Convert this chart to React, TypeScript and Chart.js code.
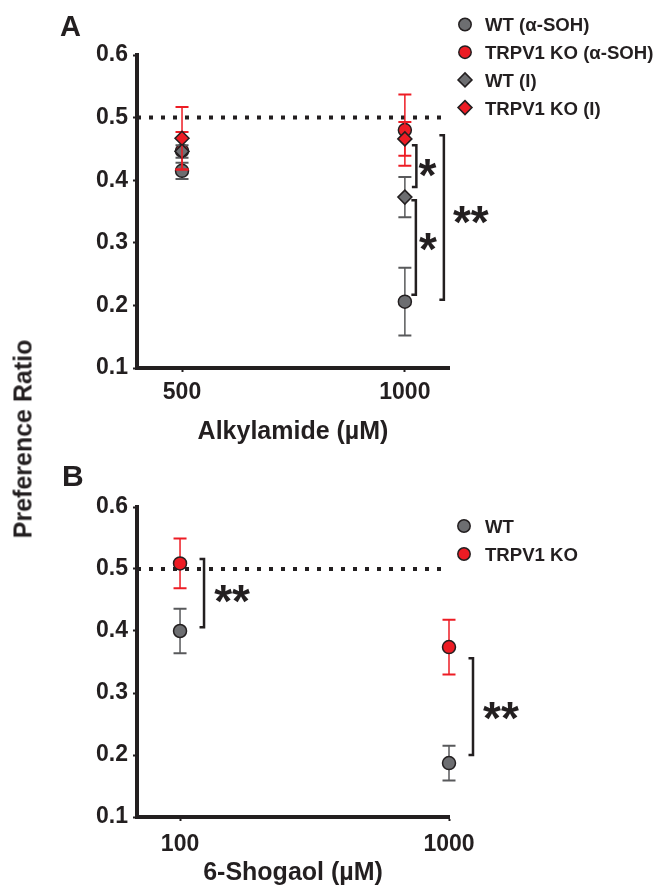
import React, { useEffect, useRef } from 'react';
import { Chart, registerables } from 'chart.js';

Chart.register(...registerables);

const FONT = '"Liberation Sans", Arial, Helvetica, sans-serif';
const INK = '#231f20';
const GREY = '#6d6e71';
const GREY_ERR = '#58595b';
const RED = '#ed1c24';

// ---------- Panel A data ----------
const A_DOSES = [500, 1000];
const A_X_TICKS = [500, 1000];
const A_WT_SOH = [0.415, 0.206];
const A_WT_SOH_ERR = [0.013, 0.054];
const A_KO_SOH = [0.447, 0.48];
const A_KO_SOH_ERR = [0.03, 0.057];
const A_WT_I = [0.446, 0.373];
const A_WT_I_ERR = [0.01, 0.032];
const A_KO_I = [0.467, 0.466];
const A_KO_I_ERR = [0.05, 0.027];

// ---------- Panel B data ----------
const B_DOSES = [100, 1000];
const B_X_TICKS = [100, 1000];
const B_WT = [0.4, 0.187];
const B_WT_ERR = [0.036, 0.028];
const B_KO = [0.509, 0.374];
const B_KO_ERR = [0.04, 0.044];

const Y_TICKS = [0.1, 0.2, 0.3, 0.4, 0.5, 0.6];
const CHANCE_LEVEL = 0.5;

// significance brackets (value ranges) and their labels
const A_BRACKETS = [
  { x: 1000, from: 0.456, to: 0.389, label: '*' },
  { x: 1000, from: 0.368, to: 0.217, label: '*' },
  { x: 1000, from: 0.472, to: 0.209, label: '**' },
];
const B_BRACKETS = [
  { x: 100, from: 0.516, to: 0.406, label: '**' },
  { x: 1000, from: 0.356, to: 0.2, label: '**' },
];

// pixel offsets for the bracket drawing (style only)
const A_BRACKET_OFFSETS = [
  { dx: 11.5, tdx: 11, tdy: 3.5 },
  { dx: 11, tdx: 12, tdy: -4 },
  { dx: 39, tdx: 27, tdy: -1.5 },
];
const B_BRACKET_OFFSETS = [
  { dx: 24, tdx: 28, tdy: 2 },
  { dx: 24, tdx: 28, tdy: 5.5 },
];

function pts(xs: number[], ys: number[]) {
  return xs.map((x, i) => ({ x, y: ys[i] }));
}

function drawMarker(ctx: CanvasRenderingContext2D, style: string, x: number, y: number, r: number, fill: string) {
  ctx.save();
  ctx.fillStyle = fill;
  ctx.strokeStyle = INK;
  ctx.lineWidth = 1.5;
  ctx.beginPath();
  if (style === 'rectRot') {
    ctx.moveTo(x, y - r);
    ctx.lineTo(x + r, y);
    ctx.lineTo(x, y + r);
    ctx.lineTo(x - r, y);
    ctx.closePath();
  } else {
    ctx.arc(x, y, r, 0, Math.PI * 2);
  }
  ctx.fill();
  ctx.stroke();
  ctx.restore();
}

const decorPlugin = {
  id: 'decor',
  beforeDatasetsDraw(chart: any, _args: any, opts: any) {
    const { ctx, chartArea } = chart;
    const y = chart.scales.y.getPixelForValue(opts.chance);
    ctx.save();
    ctx.strokeStyle = INK;
    ctx.lineWidth = 4;
    ctx.setLineDash([4, 8]);
    ctx.beginPath();
    ctx.moveTo(chartArea.left, y);
    ctx.lineTo(chartArea.right - 2, y);
    ctx.stroke();
    ctx.restore();
  },
  beforeDatasetDraw(chart: any, args: any) {
    const ds = chart.data.datasets[args.index];
    const errs = ds.errorBars;
    if (!errs) return;
    const meta = args.meta;
    const ys = chart.scales.y;
    const ctx = chart.ctx;
    ctx.save();
    ctx.strokeStyle = ds.errorColor;
    meta.data.forEach((pt: any, i: number) => {
      const v = ds.data[i].y;
      const e = errs[i];
      const yt = ys.getPixelForValue(v + e);
      const yb = ys.getPixelForValue(v - e);
      ctx.lineWidth = 1.5;
      ctx.beginPath();
      ctx.moveTo(pt.x, yt);
      ctx.lineTo(pt.x, yb);
      ctx.stroke();
      ctx.lineWidth = 2;
      ctx.beginPath();
      ctx.moveTo(pt.x - 6.5, yt);
      ctx.lineTo(pt.x + 6.5, yt);
      ctx.moveTo(pt.x - 6.5, yb);
      ctx.lineTo(pt.x + 6.5, yb);
      ctx.stroke();
    });
    ctx.restore();
  },
  afterDatasetsDraw(chart: any, _args: any, opts: any) {
    const { ctx } = chart;
    const xs = chart.scales.x;
    const ys = chart.scales.y;
    ctx.save();
    // brackets
    (opts.brackets || []).forEach((b: any, i: number) => {
      const off = opts.bracketOffsets[i];
      const xb = xs.getPixelForValue(b.x) + off.dx;
      const y1 = ys.getPixelForValue(b.from);
      const y2 = ys.getPixelForValue(b.to);
      ctx.strokeStyle = INK;
      ctx.lineWidth = 2.5;
      ctx.lineJoin = 'miter';
      ctx.beginPath();
      ctx.moveTo(xb - 4.5, y1);
      ctx.lineTo(xb, y1);
      ctx.lineTo(xb, y2);
      ctx.lineTo(xb - 4.5, y2);
      ctx.stroke();
      ctx.fillStyle = INK;
      ctx.font = `bold 46px ${FONT}`;
      ctx.textAlign = 'center';
      ctx.textBaseline = 'alphabetic';
      ctx.fillText(b.label, xb + off.tdx, (y1 + y2) / 2 + 0.47 * 46 + off.tdy);
    });
    // legend
    const lg = opts.legend;
    chart.data.datasets.forEach((ds: any, i: number) => {
      if (!ds.label) return;
      const yy = lg.y0 + i * lg.dy;
      drawMarker(ctx, ds.pointStyle, lg.x, yy, ds.pointStyle === 'rectRot' ? 7 : 6.2, ds.backgroundColor);
      ctx.fillStyle = INK;
      ctx.font = `bold 18.6px ${FONT}`;
      ctx.textAlign = 'left';
      ctx.textBaseline = 'middle';
      ctx.fillText(ds.label, lg.textX, yy + 1.8);
    });
    // panel letter
    ctx.fillStyle = INK;
    ctx.font = `bold ${opts.letter.size}px ${FONT}`;
    ctx.textAlign = 'left';
    ctx.textBaseline = 'alphabetic';
    ctx.fillText(opts.letter.text, opts.letter.x, opts.letter.y);
    ctx.restore();
  },
};

function makeDataset(label: string, xs: number[], ys: number[], errs: number[], style: string, fill: string, errColor: string, order: number) {
  return {
    label,
    data: pts(xs, ys),
    errorBars: errs,
    errorColor: errColor,
    pointStyle: style,
    backgroundColor: fill,
    borderColor: INK,
    pointBackgroundColor: fill,
    pointBorderColor: INK,
    pointBorderWidth: 1.5,
    pointRadius: style === 'rectRot' ? 7 : 6.5,
    pointHoverRadius: style === 'rectRot' ? 7 : 6.5,
    showLine: false,
    clip: false,
    order,
  };
}

function makeOptions(p: any) {
  const axisBase = {
    border: { display: true, width: 4, color: INK },
    grid: { display: true, drawOnChartArea: false, drawTicks: true, tickLength: 4, tickWidth: 2, tickColor: INK },
  };
  return {
    responsive: false,
    animation: false,
    events: [],
    layout: { padding: { left: 0, top: p.padTop, right: p.padRight, bottom: 0 } },
    plugins: {
      legend: { display: false },
      tooltip: { enabled: false },
      decor: p.decor,
    },
    scales: {
      x: {
        type: 'linear',
        min: p.xMin,
        max: p.xMax,
        ...axisBase,
        afterBuildTicks: (s: any) => {
          s.ticks = p.xTicks.map((v: number) => ({ value: v }));
        },
        afterFit: (s: any) => {
          s.height = p.xHeight;
        },
        ticks: {
          color: INK,
          font: { size: 23, weight: 'bold', family: FONT },
          padding: p.xTickPad,
          maxRotation: 0,
          callback: (v: any) => String(v),
        },
        title: {
          display: true,
          text: p.xTitle,
          color: INK,
          font: { size: 25, weight: 'bold', family: FONT, lineHeight: 1 },
          padding: { top: 0, bottom: p.titlePad },
        },
      },
      y: {
        type: 'linear',
        min: 0.1,
        max: 0.6,
        ...axisBase,
        afterBuildTicks: (s: any) => {
          s.ticks = Y_TICKS.map((v) => ({ value: v }));
        },
        afterFit: (s: any) => {
          s.width = 137;
        },
        ticks: {
          color: INK,
          font: { size: 23, weight: 'bold', family: FONT },
          padding: 5,
          callback: (v: any) => Number(v).toFixed(1),
        },
      },
    },
  };
}

function ChartCanvas({ config, width, height }: { config: () => any; width: number; height: number }) {
  const ref = useRef<HTMLCanvasElement | null>(null);
  useEffect(() => {
    if (!ref.current) return;
    const chart = new Chart(ref.current, config());
    return () => chart.destroy();
  }, []);
  return <canvas ref={ref} width={width} height={height} style={{ display: 'block', width, height }} />;
}

function configA() {
  return {
    type: 'scatter',
    data: {
      datasets: [
        makeDataset('WT (α-SOH)', A_DOSES, A_WT_SOH, A_WT_SOH_ERR, 'circle', GREY, GREY_ERR, 4),
        makeDataset('TRPV1 KO (α-SOH)', A_DOSES, A_KO_SOH, A_KO_SOH_ERR, 'circle', RED, RED, 3),
        makeDataset('WT (I)', A_DOSES, A_WT_I, A_WT_I_ERR, 'rectRot', GREY, GREY_ERR, 2),
        makeDataset('TRPV1 KO (I)', A_DOSES, A_KO_I, A_KO_I_ERR, 'rectRot', RED, RED, 1),
      ],
    },
    options: makeOptions({
      padTop: 55,
      padRight: 210,
      xMin: 399,
      xMax: 1099,
      xTicks: A_X_TICKS,
      xHeight: 82,
      xTickPad: 7,
      xTitle: 'Alkylamide (µM)',
      titlePad: 5,
      decor: {
        chance: CHANCE_LEVEL,
        brackets: A_BRACKETS,
        bracketOffsets: A_BRACKET_OFFSETS,
        legend: { x: 465, textX: 485, y0: 24.5, dy: 27.7 },
        letter: { text: 'A', x: 60, y: 36, size: 29 },
      },
    }),
    plugins: [decorPlugin],
  };
}

function configB() {
  return {
    type: 'scatter',
    data: {
      datasets: [
        makeDataset('WT', B_DOSES, B_WT, B_WT_ERR, 'circle', GREY, GREY_ERR, 2),
        makeDataset('TRPV1 KO', B_DOSES, B_KO, B_KO_ERR, 'circle', RED, RED, 1),
      ],
    },
    options: makeOptions({
      padTop: 57,
      padRight: 210,
      xMin: -44,
      xMax: 1000,
      xTicks: B_X_TICKS,
      xHeight: 69,
      xTickPad: 10,
      xTitle: '6-Shogaol (µM)',
      titlePad: 0,
      decor: {
        chance: CHANCE_LEVEL,
        brackets: B_BRACKETS,
        bracketOffsets: B_BRACKET_OFFSETS,
        legend: { x: 464, textX: 485, y0: 76, dy: 28 },
        letter: { text: 'B', x: 62, y: 36, size: 30 },
      },
    }),
    plugins: [decorPlugin],
  };
}

export default function App() {
  return (
    <div style={{ position: 'absolute', left: 0, top: 0, width: 659, height: 886, background: '#fff', overflow: 'hidden' }}>
      <div style={{ position: 'absolute', left: 0, top: 0 }}>
        <ChartCanvas config={configA} width={659} height={450} />
      </div>
      <div style={{ position: 'absolute', left: 0, top: 450 }}>
        <ChartCanvas config={configB} width={659} height={436} />
      </div>
      <div
        style={{
          position: 'absolute',
          left: 23,
          top: 439,
          transform: 'translate(-50%, -50%) rotate(-90deg)',
          whiteSpace: 'nowrap',
          font: `bold 25px ${FONT}`,
          lineHeight: 1,
          color: INK,
        }}
      >
        Preference Ratio
      </div>
    </div>
  );
}
